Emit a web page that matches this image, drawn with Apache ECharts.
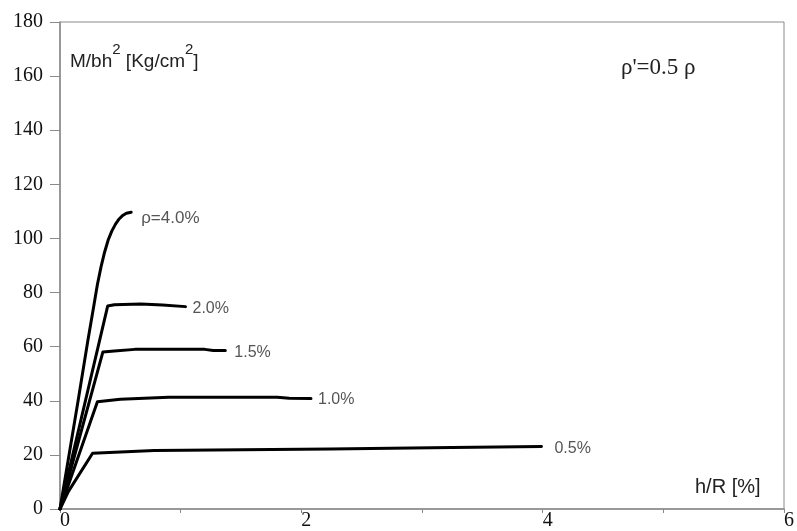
<!DOCTYPE html>
<html>
<head>
<meta charset="utf-8">
<script src="https://cdn.jsdelivr.net/npm/echarts@6/dist/echarts.min.js"></script>
<style>
html,body{margin:0;padding:0;background:#fff;}
#c{width:797px;height:531px;}
</style>
</head>
<body>
<div id="c"></div>
<script>
// x ticks and y ticks
var xTicks = [0, 1, 2, 3, 4, 5, 6];
var yTicks = [0, 20, 40, 60, 80, 100, 120, 140, 160, 180];

// Series values (h/R [%] , M/bh^2 [Kg/cm^2])
var rho40X = [0, 0.15, 0.23, 0.28, 0.31, 0.34, 0.37, 0.40, 0.43, 0.46, 0.49, 0.52, 0.55, 0.59];
var rho40Y = [0, 40, 62, 75, 83, 89.5, 95, 99.5, 102.8, 105.3, 107.2, 108.5, 109.3, 109.7];

var rho20X = [0, 0.395, 0.45, 0.67, 0.85, 1.04];
var rho20Y = [0, 75, 75.5, 75.8, 75.4, 74.8];

var rho15X = [0, 0.355, 0.45, 0.62, 1.20, 1.27, 1.37];
var rho15Y = [0, 58, 58.4, 59, 59, 58.6, 58.6];

var rho10X = [0, 0.31, 0.50, 0.90, 1.80, 1.90, 2.08];
var rho10Y = [0, 39.6, 40.6, 41.3, 41.3, 40.9, 40.8];

var rho05X = [0, 0.07, 0.27, 0.78, 2.24, 3.25, 3.99];
var rho05Y = [0, 6.5, 20.6, 21.6, 22.2, 22.7, 23.1];

var seriesNames = ['ρ=4.0%', '2.0%', '1.5%', '1.0%', '0.5%'];

function pairs(xs, ys) { return xs.map(function (x, i) { return [x, ys[i]]; }); }

var seriesData = [
  pairs(rho40X, rho40Y),
  pairs(rho20X, rho20Y),
  pairs(rho15X, rho15Y),
  pairs(rho10X, rho10Y),
  pairs(rho05X, rho05Y)
];
var labelDist = [10, 7, 9, 7, 13];
var labelDy = [6, 2, 2, 1, 2];

var chart = echarts.init(document.getElementById('c'), null, {renderer: 'canvas'});

var serif = '"Liberation Serif", "Times New Roman", serif';
var sans = '"Liberation Sans", Arial, sans-serif';

var option = {
  animation: false,
  backgroundColor: '#fff',
  grid: {
    left: 60, right: 7, top: 22, bottom: 18,
    show: true, borderColor: '#8a8a8a', borderWidth: 1
  },
  xAxis: {
    type: 'value',
    min: xTicks[0], max: xTicks[xTicks.length - 1], interval: 1,
    axisLine: {show: true, lineStyle: {color: '#8a8a8a', width: 1.5}},
    axisTick: {show: true, length: 4, lineStyle: {color: '#8a8a8a'}},
    splitLine: {show: false},
    axisLabel: {
      show: true, margin: 2, align: 'left',
      fontFamily: serif, fontSize: 20, color: '#111',
      formatter: function (v) { return (v % 2 === 0) ? String(v) : ''; }
    }
  },
  yAxis: {
    type: 'value',
    min: yTicks[0], max: yTicks[yTicks.length - 1], interval: 20,
    axisLine: {show: true, lineStyle: {color: '#8a8a8a', width: 1.5}},
    axisTick: {show: true, length: 10, lineStyle: {color: '#8a8a8a'}},
    splitLine: {show: false},
    axisLabel: {
      show: true, margin: 17,
      fontFamily: serif, fontSize: 20, color: '#111'
    }
  },
  series: seriesData.map(function (d, i) {
    return {
      type: 'line',
      name: seriesNames[i],
      data: d,
      showSymbol: false,
      symbol: 'none',
      smooth: false,
      lineStyle: {color: '#000', width: 3, join: 'round', cap: 'round'},
      endLabel: {
        show: true,
        formatter: seriesNames[i],
        color: '#555',
        fontFamily: sans,
        fontSize: i === 0 ? 17 : 16,
        distance: labelDist[i],
        offset: [0, labelDy[i]]
      },
      z: 3
    };
  }),
  graphic: [
    {
      type: 'text',
      left: 70, top: 42,
      style: {
        text: '{a|M/bh}{s|2}{a| [Kg/cm}{s|2}{a|]}',
        rich: {
          a: {fontSize: 19, fontFamily: sans, fill: '#222', lineHeight: 29, verticalAlign: 'bottom'},
          s: {fontSize: 15, fontFamily: sans, fill: '#222', lineHeight: 15, verticalAlign: 'top'}
        }
      }
    },
    {
      type: 'text',
      x: 621, y: 68,
      style: {
        text: 'ρ\'=0.5 ρ',
        font: '23px ' + serif,
        fill: '#222',
        verticalAlign: 'middle'
      }
    },
    {
      type: 'text',
      x: 695, y: 487,
      style: {
        text: 'h/R [%]',
        font: '20px ' + sans,
        fill: '#222',
        verticalAlign: 'middle'
      }
    }
  ]
};

chart.setOption(option);
</script>
</body>
</html>
